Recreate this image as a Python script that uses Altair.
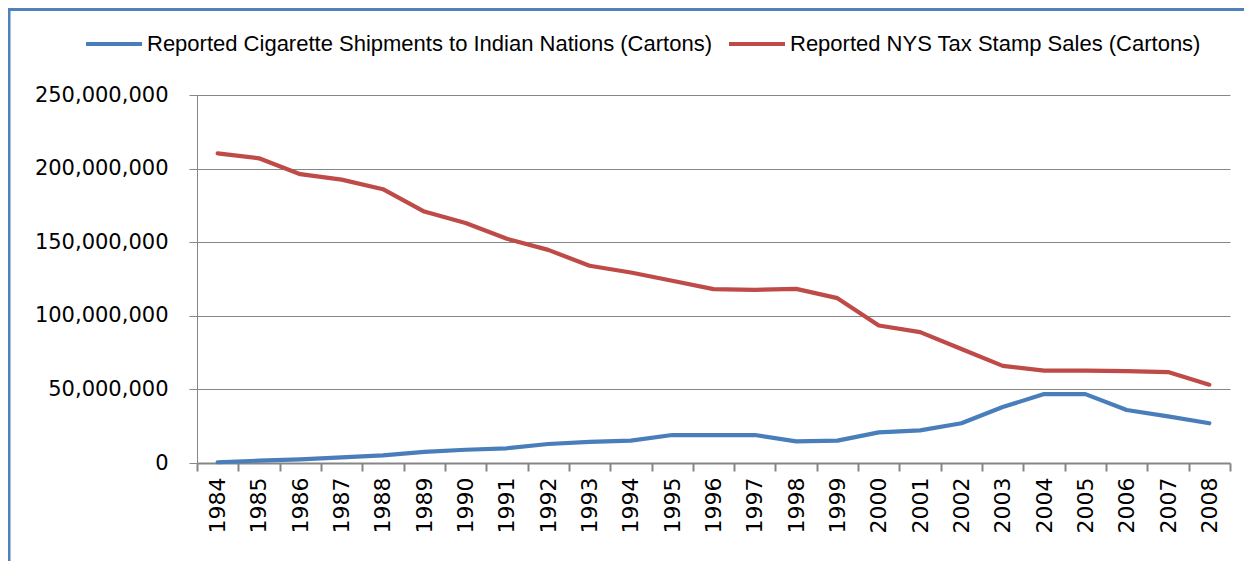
import altair as alt
import pandas as pd

years = ["1984", "1985", "1986", "1987", "1988", "1989", "1990", "1991", "1992",
         "1993", "1994", "1995", "1996", "1997", "1998", "1999", "2000", "2001",
         "2002", "2003", "2004", "2005", "2006", "2007", "2008"]

# millions of cartons
shipments = [0.5, 1.6, 2.5, 3.8, 5.2, 7.5, 9.0, 10.0, 12.9, 14.3, 15.2, 19.0, 19.0,
             19.0, 14.7, 15.2, 20.8, 22.2, 27.0, 38.0, 46.8, 46.8, 36.0, 31.7, 27.0]
stamps = [210.4, 207.0, 196.2, 192.5, 186.0, 170.8, 163.0, 152.3, 144.8, 134.0, 129.4,
          123.8, 118.1, 117.6, 118.3, 112.0, 93.4, 88.9, 77.4, 66.0, 62.7, 62.7, 62.4,
          61.8, 53.2]

s1 = "Reported Cigarette Shipments to Indian Nations (Cartons)"
s2 = "Reported NYS Tax Stamp Sales (Cartons)"
series_names = [s1, s2]
series_colors = ["#4A7EBB", "#BE4B48"]
y_ticks = [0, 50e6, 100e6, 150e6, 200e6, 250e6]

df = pd.DataFrame({
    "year": years * 2,
    "value": [v * 1e6 for v in shipments + stamps],
    "series": [s1] * len(years) + [s2] * len(years),
})

GRAY = "#868686"

yaxis = alt.Axis(
    title=None, values=y_ticks, format=",.0f", labelFont="DejaVu Sans",
    labelFontSize=21, labelColor="black", tickSize=8, tickColor=GRAY,
    domainColor=GRAY, gridColor=GRAY, gridWidth=1.2, labelPadding=21,
    grid=True,
)
yscale = alt.Scale(domain=[0, 250e6], nice=False)

axis_layer = alt.Chart(df).mark_point(opacity=0).encode(
    x=alt.X(
        "year:O",
        sort=years,
        scale=alt.Scale(type="band", paddingInner=0, paddingOuter=0),
        axis=alt.Axis(
            title=None, labelAngle=270, tickBand="extent", labelFont="DejaVu Sans",
            labelFontSize=22, labelColor="black", tickSize=8, tickColor=GRAY,
            tickWidth=2, domainColor=GRAY, domainWidth=2, labelPadding=6, grid=False,
        ),
    ),
    y=alt.Y("value:Q", scale=yscale, axis=yaxis),
)

lines = alt.Chart(df).mark_line(strokeWidth=4.2, strokeCap="round", strokeJoin="round").encode(
    x=alt.X("year:O", sort=years, scale=alt.Scale(type="point", padding=0.5), axis=None),
    y=alt.Y("value:Q", scale=yscale, axis=yaxis),
    color=alt.Color(
        "series:N",
        scale=alt.Scale(domain=series_names, range=series_colors),
        legend=alt.Legend(
            title=None, orient="none", legendX=-113, legendY=-81, direction="horizontal",
            symbolType="stroke", symbolSize=3136, symbolStrokeWidth=4,
            labelFont="Liberation Sans", labelFontSize=22, labelColor="black",
            columnPadding=9, labelOffset=3, labelLimit=0,
        ),
    ),
)

border_df = pd.DataFrame({"k": [0]})
left_border = alt.Chart(border_df).mark_rule(color="#4F81BD", strokeWidth=3).encode(
    x=alt.value(-188), y=alt.value(-87), y2=alt.value(466)
)
top_border = alt.Chart(border_df).mark_rule(color="#4F81BD", strokeWidth=3).encode(
    x=alt.value(-189), x2=alt.value(1047), y=alt.value(-85.5)
)

chart = (
    alt.layer(axis_layer, lines, left_border, top_border)
    .resolve_scale(x="independent")
    .properties(
        width=1033, height=368,
        autosize=alt.AutoSizeParams(type="none"),
        padding={"left": 189, "top": 87, "right": 14, "bottom": 98},
    )
    .configure_view(stroke=None)
)

chart.save("out.html", embed_options={"renderer": "svg", "actions": False})
